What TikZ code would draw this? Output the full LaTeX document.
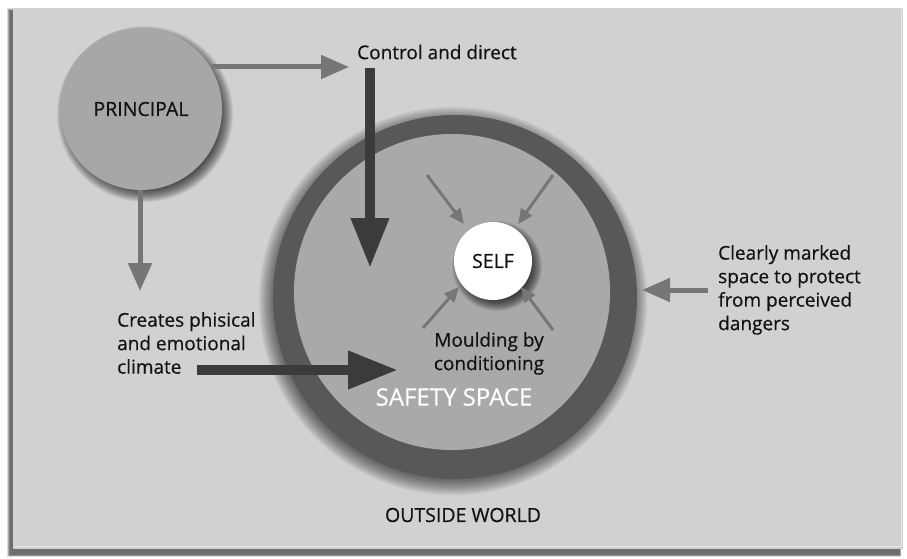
\documentclass[tikz,border=0pt]{standalone}
\usepackage{fontspec}
\setmainfont[FakeBold=0.5]{Open Sans}
\usetikzlibrary{arrows.meta,calc}
\definecolor{panelgray}{HTML}{D1D1D1}
\definecolor{principalgray}{HTML}{A7A7A7}
\definecolor{ringgray}{HTML}{585858}
\definecolor{innergray}{HTML}{A9A9A9}
\definecolor{thinarrow}{HTML}{767676}
\definecolor{heavyarrow}{HTML}{3B3B3B}
\definecolor{inktext}{HTML}{121212}
\tikzset{
  bodytext/.style={font=\fontsize{19}{23.5}\selectfont, text=inktext, inner sep=0pt},
  capstext/.style={font=\fontsize{19.5}{22}\selectfont, text=inktext},
  grayarrow/.style={draw=thinarrow, line width=5pt, -{Triangle[length=28pt,width=23pt]}},
  darkarrow/.style={draw=heavyarrow, line width=10pt, -{Triangle[length=50pt,width=36pt]}},
  pointer/.style={draw=thinarrow, line width=3pt, -{Triangle[length=15pt,width=13pt]}},
  disc/.style={circle, inner sep=0pt}
}
% soft round shadow: centre, radius, spread, offset
\newcommand\castshadow[4]{%
  \foreach \k in {0,...,13}{%
    \fill[black, opacity=0.065] ($(#1)+#4$) circle ({#2+#3-#3*\k/7});
  }%
}
\begin{document}
\begin{tikzpicture}[x=1pt,y=-1pt]
\useasboundingbox (0,0) rectangle (907,559);
\fill[white] (0,0) rectangle (907,559);

% background panel of the outside world, with its shadow
\foreach \k in {0,...,5}{
  \fill[black, opacity=0.13] (13-3-\k*0.6,8+3-\k*0.6) rectangle (903-3+\k*0.2,549+6+\k*0.3);
}
\fill[panelgray] (13,8) rectangle (903,549);
\draw[white, opacity=0.5, line width=1pt] (15,546) -- (901,546) -- (901,10);

\coordinate (pc) at (141,109);
\coordinate (oc) at (455,297);
\coordinate (sc) at (493,261);

% principal
\castshadow{pc}{81}{7}{(4,5)}
\node[disc, minimum size=162pt, fill=principalgray, capstext] (principal) at (pc) {PRINCIPAL};

% safety space: dark rim and lighter interior
\castshadow{oc}{182}{12}{(-2,4)}
\node[disc, minimum size=364pt, fill=ringgray] (outer) at (oc) {};
\node[disc, minimum size=316pt, fill=innergray] (safety) at (452,292) {};

% self
\castshadow{sc}{39}{6}{(4,5)}
\node[disc, minimum size=78pt, fill=white, capstext] (self) at (sc) {SELF};

% labels
\node[bodytext, anchor=west] (control) at (357,52) {Control and direct};
\node[bodytext, anchor=north west, align=left] (climate) at (117,312) {Creates phisical\\and emotional\\climate};
\node[bodytext, anchor=north west, align=left] (marked) at (718,245) {Clearly marked\\space to protect\\from perceived\\dangers};
\node[bodytext, anchor=north, align=center] (moulding) at (489,332) {Moulding by\\conditioning};
\node[font=\fontsize{24}{26}\selectfont, text=white, inner sep=0pt] (safetylabel) at (454,397) {SAFETY SPACE};
\node[capstext, inner sep=0pt] (outside) at (463,515) {OUTSIDE WORLD};

% arrow end points
\coordinate (ctrlfrom) at (212,67);
\coordinate (ctrlto) at (349,67);
\coordinate (climfrom) at (140,190);
\coordinate (climto) at (140,291);
\coordinate (downfrom) at (370,68);
\coordinate (downto) at (370,268);
\coordinate (rightfrom) at (197,370);
\coordinate (rightto) at (398,370);
\coordinate (markfrom) at (708,290);
\coordinate (markto) at (642,290);
\coordinate (ulfrom) at (427,175);
\coordinate (ulto) at (464,224);
\coordinate (urfrom) at (553,175);
\coordinate (urto) at (518,224);
\coordinate (llfrom) at (423,328);
\coordinate (llto) at (459,287);
\coordinate (lrfrom) at (553,330);
\coordinate (lrto) at (521,287);

% connectors
\draw[grayarrow] (ctrlfrom) -- (ctrlto);
\draw[grayarrow] (climfrom) -- (climto);
\draw[grayarrow] (markfrom) -- (markto);
\draw[darkarrow] (downfrom) -- (downto);
\draw[darkarrow] (rightfrom) -- (rightto);
\draw[pointer] (ulfrom) -- (ulto);
\draw[pointer] (urfrom) -- (urto);
\draw[pointer] (llfrom) -- (llto);
\draw[pointer] (lrfrom) -- (lrto);
\end{tikzpicture}
\end{document}
